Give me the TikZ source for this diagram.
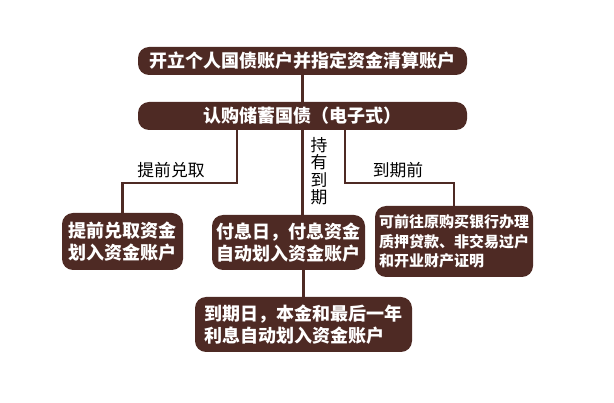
\documentclass[tikz,border=0pt]{standalone}
\usepackage{fontspec}
\usepackage{xcolor}
\usepackage{tikz}
\usetikzlibrary{positioning, calc}
\newfontfamily\cjk{Noto Sans CJK SC}
\definecolor{bondbrown}{HTML}{4E2A24}

\begin{document}
\begin{tikzpicture}[x=1pt, y=-1pt]
        \tikzstyle{block} = [rectangle, fill=bondbrown, text=white, rounded corners=11pt, inner sep=0pt, font=\cjk\bfseries\fontsize{18}{22}\selectfont]
        \tikzstyle{wide} = [block, minimum width=329pt, minimum height=28pt]
        \tikzstyle{small} = [block, align=left, font=\cjk\bfseries\fontsize{15}{19.5}\selectfont]
        \tikzstyle{tag} = [text=black, inner sep=0pt, font=\cjk\fontsize{16.8}{17.5}\selectfont]
        \tikzstyle{line} = [draw=bondbrown, line width=2.5pt]

        \useasboundingbox (0,0) rectangle (614,403);

        \node [wide] (open) at (302.5,61) {开立个人国债账户并指定资金清算账户};
        \node [wide] (buy) at (302.5,116) {认购储蓄国债（电子式）};

        \node [block, align=left, minimum width=121pt, minimum height=57pt] (early) at (122.5,241.5) {提前兑取资金\\划入资金账户};
        \node [block, align=left, minimum width=153pt, minimum height=55pt] (coupon) at (288.5,242.5) {付息日，付息资金\\自动划入资金账户};
        \node [small, minimum width=158pt, minimum height=71pt] (pledge) at (454,241.5) {可前往原购买银行办理\\质押贷款、非交易过户\\和开业财产证明};
        \node [block, align=left, minimum width=217pt, minimum height=55pt] (maturity) at (303.5,324.5) {到期日，本金和最后一年\\利息自动划入资金账户};

        \coordinate (lbend) at (237,183);
        \coordinate (rbend) at (345,183);

        \node [tag] (earlytag) at (171,170) {提前兑取};
        \node [tag] (beforetag) at (398,170) {到期前};
        \node [tag, align=center] (holdtag) at (319,171) {持\\有\\到\\期};

        \path [line] (open) -- (buy);
        \path [line] (buy.south -| lbend) -- (lbend) -| (early);
        \path [line] (buy.south -| rbend) -- (rbend) -| (pledge);
        \path [line] (buy.south) -- (buy.south |- coupon.north);
        \path [line] (maturity.north |- coupon.south) -- (maturity.north);
\end{tikzpicture}
\end{document}
